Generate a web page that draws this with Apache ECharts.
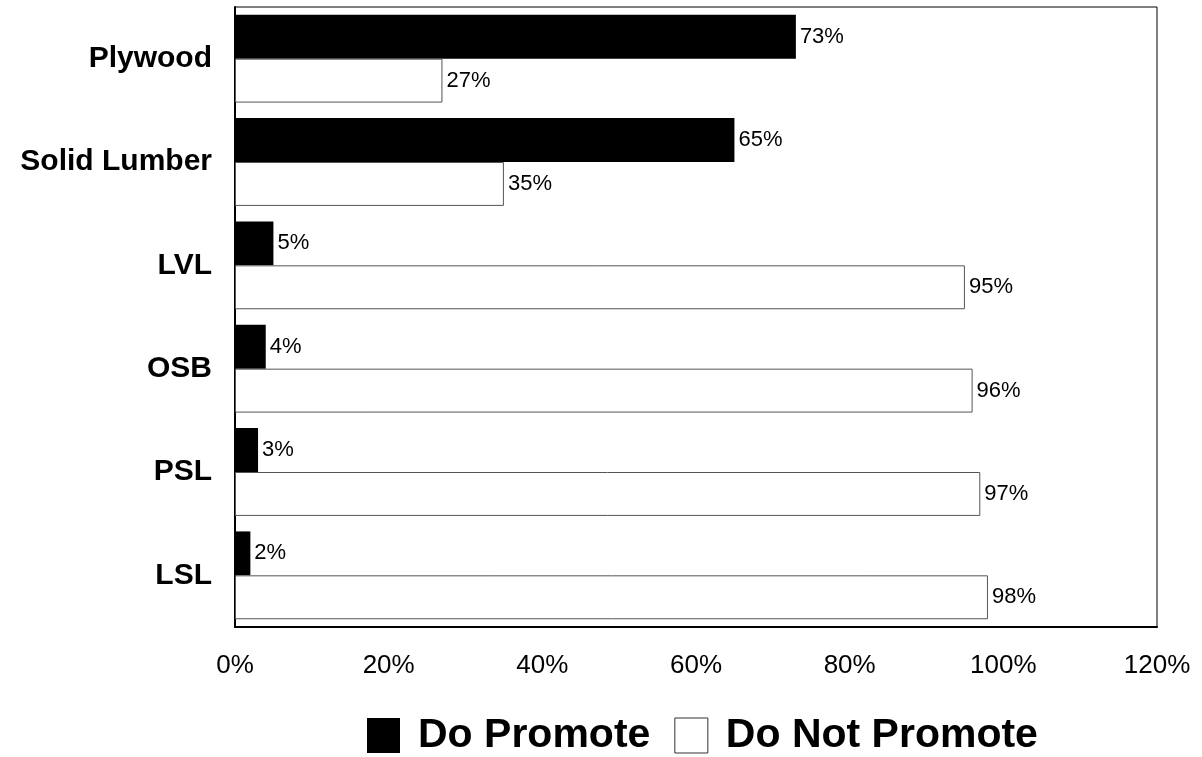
<!DOCTYPE html>
<html>
<head>
<meta charset="utf-8">
<script src="https://cdn.jsdelivr.net/npm/echarts@6/dist/echarts.min.js"></script>
<style>
    html, body { margin: 0; padding: 0; background: #fff; }
    #chart { width: 1202px; height: 757px; }
</style>
</head>
<body>
<div id="chart"></div>
<script>
var categories = ['Plywood', 'Solid Lumber', 'LVL', 'OSB', 'PSL', 'LSL'];
var doPromote = [73, 65, 5, 4, 3, 2];
var doNotPromote = [27, 35, 95, 96, 97, 98];

function initChart() {
    var chart = echarts.init(document.getElementById('chart'));
    var font = 'Arial, "Liberation Sans", sans-serif';
    var option = {
        animation: false,
        textStyle: { fontFamily: font },
        grid: {
            left: 235,
            right: 45,
            top: 7,
            bottom: 130,
            show: true,
            borderColor: '#000',
            borderWidth: 1
        },
        legend: {
            left: 367,
            top: 715,
            padding: 0,
            itemWidth: 33,
            itemHeight: 35,
            itemGap: 24,
            icon: 'rect',
            textStyle: {
                fontSize: 41,
                fontWeight: 'bold',
                color: '#000',
                fontFamily: font,
                padding: [0, 0, 0, 13]
            },
            data: [
                { name: 'Do Promote' },
                { name: 'Do Not Promote', itemStyle: { color: '#fff', borderColor: '#333', borderWidth: 1 } }
            ]
        },
        xAxis: {
            type: 'value',
            min: 0,
            max: 120,
            interval: 20,
            axisLine: { show: true, lineStyle: { color: '#000', width: 2 } },
            axisTick: { show: false },
            splitLine: { show: false },
            axisLabel: {
                margin: 26,
                fontSize: 26,
                color: '#000',
                formatter: '{value}%'
            }
        },
        yAxis: {
            type: 'category',
            inverse: true,
            data: categories,
            axisLine: { show: true, lineStyle: { color: '#000', width: 2 } },
            axisTick: { show: false },
            axisLabel: {
                margin: 23,
                fontSize: 30,
                fontWeight: 'bold',
                color: '#000'
            }
        },
        series: [{
            name: 'Do Promote',
            type: 'bar',
            barGap: 0,
            barCategoryGap: '15%',
            itemStyle: { color: '#000' },
            label: {
                show: true,
                position: 'right',
                distance: 4,
                fontSize: 22,
                color: '#000',
                formatter: '{c}%'
            },
            data: doPromote
        }, {
            name: 'Do Not Promote',
            type: 'bar',
            barGap: 0,
            barCategoryGap: '15%',
            itemStyle: { color: '#fff', borderColor: '#555', borderWidth: 1 },
            label: {
                show: true,
                position: 'right',
                distance: 4,
                fontSize: 22,
                color: '#000',
                formatter: '{c}%'
            },
            data: doNotPromote
        }]
    };
    chart.setOption(option);
    return chart;
}

var chart = initChart();
</script>
</body>
</html>
